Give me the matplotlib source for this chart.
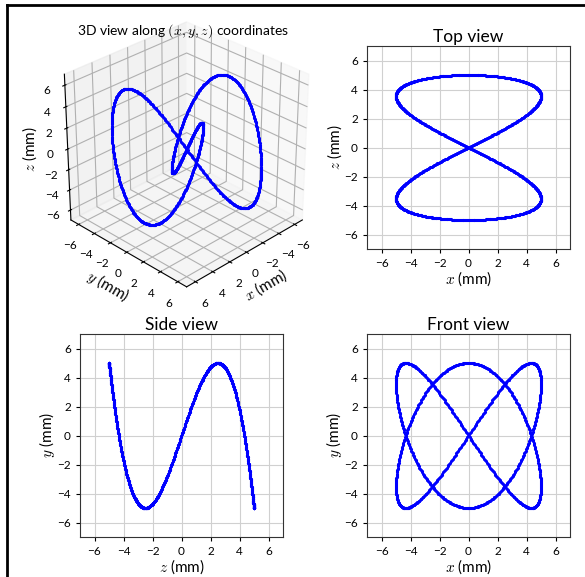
import matplotlib.pyplot as plt
import numpy as np
from matplotlib.lines import Line2D

plt.rcParams['font.family'] = ['Lato', 'DejaVu Sans']
plt.rcParams['mathtext.fontset'] = 'cm'

# curve parameters read from the projections (amplitude in mm, frequencies)
amp = 5.0
freq_x = 2
freq_y = 3
freq_z = 1
n_points = 1000

ticks = [-6, -4, -2, 0, 2, 4, 6]
lims = (-7, 7)

t = np.linspace(0, 2 * np.pi, n_points)
x = amp * np.sin(freq_x * t)
y = -amp * np.cos(freq_y * t)
z = amp * np.cos(freq_z * t)

fig = plt.figure(figsize=(5.85, 5.77), dpi=100)

# 3D view
ax3 = fig.add_axes([0.055, 0.49, 0.515, 0.49], projection='3d')
ax3.plot(z, x, y, 'b.', markersize=2.5)
ax3.set_xlim(lims)
ax3.set_ylim(lims)
ax3.set_zlim(lims)
ax3.set_xticks(ticks)
ax3.set_yticks(ticks)
ax3.set_zticks(ticks)
ax3.set_box_aspect((1, 1, 1))
ax3.view_init(elev=30, azim=45)
ax3.tick_params(labelsize=8.5, pad=0)
ax3.zaxis.set_rotate_label(False)
ax3.set_xlabel(r'$x$ (mm)', fontsize=11, labelpad=-4)
ax3.set_ylabel(r'$y$ (mm)', fontsize=11, labelpad=-4)
ax3.set_zlabel(r'$z$ (mm)', fontsize=11, labelpad=-4, rotation=90)
ax3.set_title(r'3D view along $(x,y,z)$ coordinates', fontsize=10, y=0.965)


def view(rect, h, v, title, xl, yl):
    ax = fig.add_axes(rect)
    ax.plot(h, v, 'b.', markersize=2.5)
    ax.set_xlim(lims)
    ax.set_ylim(lims)
    ax.set_xticks(ticks)
    ax.set_yticks(ticks)
    ax.grid(True, color='#d0d0d0', linewidth=0.8)
    ax.set_axisbelow(True)
    ax.tick_params(labelsize=8.5, length=3)
    ax.set_title(title, fontsize=12.5, pad=3)
    ax.set_xlabel(xl, fontsize=11, labelpad=0)
    ax.set_ylabel(yl, fontsize=11, labelpad=0)
    for s in ax.spines.values():
        s.set_color('#333333')
    return ax


w = 203 / 585
h = 203 / 577
view([367 / 585, 1 - 249 / 577, w, h], x, z, 'Top view', r'$x$ (mm)', r'$z$ (mm)')
view([80 / 585, 1 - 537 / 577, w, h], z, y, 'Side view', r'$z$ (mm)', r'$y$ (mm)')
view([367 / 585, 1 - 537 / 577, w, h], x, y, 'Front view', r'$x$ (mm)', r'$y$ (mm)')

# border lines of the captured frame
fig.add_artist(Line2D([7 / 585, 1], [1 - 5 / 577, 1 - 5 / 577], color='black', linewidth=2))
fig.add_artist(Line2D([7 / 585, 7 / 585], [0, 1 - 5 / 577], color='black', linewidth=2))

fig.savefig('out.png', dpi=100)
